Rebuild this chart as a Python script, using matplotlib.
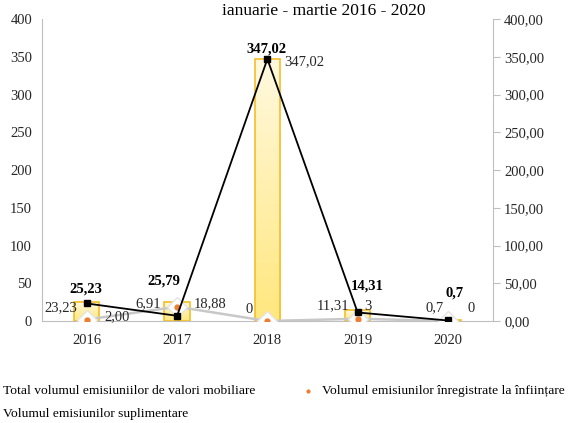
import numpy as np
import matplotlib.pyplot as plt
from matplotlib.colors import LinearSegmentedColormap
from matplotlib.lines import Line2D

plt.rcParams['font.family'] = ['Liberation Serif', 'DejaVu Serif']

# data
years = ['2016', '2017', '2018', '2019', '2020']
total = [25.23, 25.79, 347.02, 14.31, 0.7]
total_line = [23.23, 6.91, 347.02, 11.31, 0.7]
suplimentare = [2.00, 18.88, 0, 3, 0]
labels_total = ['25,23', '25,79', '347,02', '14,31', '0,7']
labels_left = ['23,23', '6,91', '0', '11,31', '0,7']
labels_right = ['2,00', '18,88', '347,02', '3', '0']
title = 'ianuarie - martie 2016 - 2020'
legend_labels = ['Total volumul emisiuniilor de valori mobiliare',
                 'Volumul emisiunilor înregistrate la înființare',
                 'Volumul emisiunilor suplimentare']

# label offsets in pixels
off_total = [(-1, 13), (-13, 21), (-1, 10), (10, 24), (7, 27)]
off_left = [(-10, 13), (-16, 17), (-15, 12), (-8, 15), (-4, 13)]
off_right = [(18, 4), (17, 17), (17, -3), (7, 15), (20, 13)]

grey = '#BFBFBF'
fig = plt.figure(figsize=(5.7, 4.23), dpi=100)
ax = fig.add_axes([0.0732, 0.2411, 0.865 - 0.0732, 0.955 - 0.2411])
x = np.arange(len(years))

cmap = LinearSegmentedColormap.from_list('g', ['#FFE77E', '#FFF9E0'])
grad = np.linspace(0, 1, 256).reshape(-1, 1)
bars = ax.bar(x, total, width=0.28, facecolor='none', edgecolor='#F5BE2A', lw=1.2, zorder=3)
for b in bars:
    x0, w, h = b.get_x(), b.get_width(), b.get_height()
    ax.imshow(grad, extent=[x0, x0 + w, 0, h], origin='lower', aspect='auto',
              cmap=cmap, zorder=2)

# diamond series
ax.plot(x, suplimentare, color='#C8C8C8', lw=1.8, zorder=4)
ax.plot(x, suplimentare, ls='none', marker='D', ms=10, mfc='white', mec='#E4E4E4',
        mew=1, zorder=5)
ax.plot(x, suplimentare, ls='none', marker='o', ms=3.5, mfc='#ED7D31', mec='#ED7D31',
        zorder=6)

# black line
ax.plot(x, total_line, color='black', lw=1.3, marker='s', ms=5, zorder=7)

for i in range(len(years)):
    ax.annotate(labels_total[i], (x[i], total[i]), xytext=off_total[i],
                textcoords='offset pixels', ha='center', va='center',
                fontsize=10.5, fontweight='bold', zorder=8)
    ax.annotate(labels_left[i], (x[i], 0), xytext=off_left[i],
                textcoords='offset pixels', ha='right', va='center',
                fontsize=10.5, color='#262626', zorder=8)
    yr = total[i] if i == 2 else 0
    ax.annotate(labels_right[i], (x[i], yr), xytext=off_right[i],
                textcoords='offset pixels', ha='left', va='center',
                fontsize=10.5, color='#262626', zorder=8)

ax.set_xlim(-0.5, 4.5)
ax.set_ylim(0, 400)
ax.set_xticks(x)
ax.set_xticklabels(years, fontsize=10.5)
ax.set_yticks(range(0, 401, 50))
ax.tick_params(axis='y', length=0, labelsize=10.5, pad=7, colors='#262626')
ax.tick_params(axis='x', length=0, labelsize=10.5, pad=9, colors='#262626')
for s in ['top', 'right']:
    ax.spines[s].set_visible(False)
ax.spines['left'].set_color(grey)
ax.spines['bottom'].set_color(grey)

ax2 = ax.twinx()
ax2.set_ylim(0, 400)
ax2.set_yticks(range(0, 401, 50))
ax2.set_yticklabels([f'{v:.2f}'.replace('.', ',') for v in range(0, 401, 50)])
ax2.tick_params(axis='y', length=5, labelsize=10.5, pad=3, colors='#262626')
ax2.tick_params(axis='y', color=grey)
for s in ['top', 'left', 'bottom']:
    ax2.spines[s].set_visible(False)
ax2.spines['right'].set_color(grey)

fig.text(324 / 570, 1 - 15 / 423, title, ha='center', va='baseline', fontsize=12.5)

# legend
fig.text(3 / 570, 1 - 391 / 423, legend_labels[0], ha='left', va='center', fontsize=9.7)
fig.text(322 / 570, 1 - 391 / 423, legend_labels[1], ha='left', va='center', fontsize=9.7)
fig.text(3 / 570, 1 - 414 / 423, legend_labels[2], ha='left', va='center', fontsize=9.7)
fig.add_artist(Line2D([308 / 570], [1 - 391 / 423], marker='o', ms=2, color='#ED7D31',
                      transform=fig.transFigure))

fig.savefig('out.png', dpi=100)
